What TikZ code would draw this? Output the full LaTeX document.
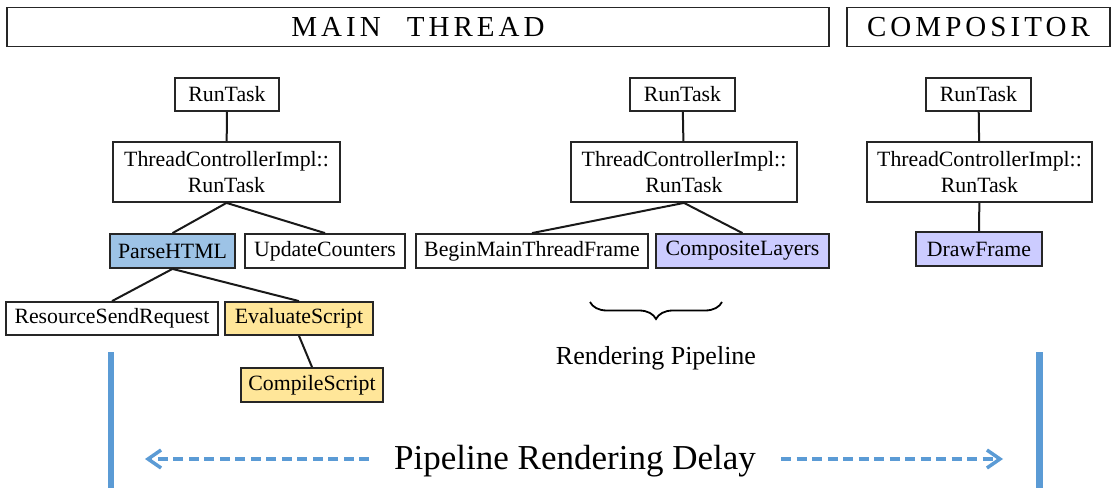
\documentclass[tikz,border=0pt]{standalone}
\usepackage{fontspec}
\setmainfont{Liberation Serif}
\newfontfamily\hdrfont[LetterSpace=14]{Liberation Serif}
\usetikzlibrary{arrows.meta,decorations.pathreplacing}
\definecolor{bluefill}{HTML}{9DC3E6}
\definecolor{yelfill}{HTML}{FFE699}
\definecolor{purfill}{HTML}{CCCCFF}
\definecolor{barblue}{HTML}{5B9BD5}
\tikzset{
  box/.style={draw=black!85, line width=1.8pt, inner sep=0pt, align=center,
    font=\fontsize{21.8}{25.5}\selectfont},
  header/.style={draw=black!85, line width=1.5pt, inner sep=0pt,
    font=\hdrfont\fontsize{29}{31}\selectfont},
  edge/.style={line width=2pt, black!90},
  bar/.style={line width=6.5pt, barblue},
  delay/.style={line width=3.5pt, barblue, dash pattern=on 10pt off 5.5pt,
    -{Straight Barb[length=13pt,width=18pt,line width=3.5pt]}},
  bracestyle/.style={decorate, decoration={brace, amplitude=17pt}, line width=1.8pt, black}
}
\begin{document}
\begin{tikzpicture}[x=1pt,y=-1pt]
\useasboundingbox (0,0) rectangle (1120,503);

% headers
\node[header, minimum width=822pt, minimum height=39pt] (mt) at (418,27) {MAIN\hspace{26pt}THREAD};
\node[header, minimum width=263pt, minimum height=39pt] (cp) at (978.5,27) {COMPOSITOR};

% left tree
\node[box, minimum width=104pt, minimum height=33pt] (rt1) at (227,94.5) {RunTask};
\node[box, minimum width=227pt, minimum height=60pt] (tci1) at (226.5,172) {ThreadControllerImpl::\\RunTask};
\node[box, minimum width=125pt, minimum height=34pt, fill=bluefill] (parse) at (172.5,251) {ParseHTML};
\node[box, minimum width=160pt, minimum height=34pt] (upd) at (325,251) {UpdateCounters};
\node[box, minimum width=212pt, minimum height=33pt] (rsr) at (112,318.5) {ResourceSendRequest};
\node[box, minimum width=148pt, minimum height=33pt, fill=yelfill] (eval) at (299,318.5) {EvaluateScript};
\node[box, minimum width=142pt, minimum height=34pt, fill=yelfill] (comp) at (312,385) {CompileScript};

% middle tree
\node[box, minimum width=105pt, minimum height=33pt] (rt2) at (682.5,94.5) {RunTask};
\node[box, minimum width=226pt, minimum height=60pt] (tci2) at (684,172) {ThreadControllerImpl::\\RunTask};
\node[box, minimum width=232pt, minimum height=34pt] (bmtf) at (532,251) {BeginMainThreadFrame};
\node[box, minimum width=173pt, minimum height=34pt, fill=purfill] (cl) at (742.5,251) {CompositeLayers};

% compositor tree
\node[box, minimum width=105pt, minimum height=33pt] (rt3) at (978.5,94.5) {RunTask};
\node[box, minimum width=225pt, minimum height=60pt] (tci3) at (979.5,172) {ThreadControllerImpl::\\RunTask};
\node[box, minimum width=126pt, minimum height=34pt, fill=purfill] (df) at (979,249) {DrawFrame};

% edges
\draw[edge] (rt1) -- (tci1);
\draw[edge] (tci1.south) -- (parse.north);
\draw[edge] (tci1.south) -- (upd.north);
\draw[edge] (parse.south) -- (rsr.north);
\draw[edge] (parse.south) -- (eval.north);
\draw[edge] (eval.south) -- (comp.north);
\draw[edge] (rt2) -- (tci2);
\draw[edge] (tci2.south) -- (bmtf.north);
\draw[edge] (tci2.south) -- (cl.north);
\draw[edge] (rt3) -- (tci3);
\draw[edge] (tci3) -- (df);

% brace
\coordinate (br1) at (722,302);
\coordinate (br2) at (590,302);
\draw[bracestyle] (br1) -- (br2);
\node[font=\fontsize{26}{30}\selectfont] (rp) at (656,358) {Rendering Pipeline};

% delay bars and arrows
\coordinate (lb1) at (111,352);
\coordinate (lb2) at (111,488);
\coordinate (rb1) at (1039.5,352);
\coordinate (rb2) at (1039.5,488);
\draw[bar] (lb1) -- (lb2);
\draw[bar] (rb1) -- (rb2);
\node[font=\fontsize{35}{40}\selectfont] (prd) at (575,461) {Pipeline Rendering Delay};
\coordinate (la1) at (369,459);
\coordinate (la2) at (145,459);
\coordinate (ra1) at (781,459);
\coordinate (ra2) at (1003,459);
\draw[delay] (la1) -- (la2);
\draw[delay] (ra1) -- (ra2);
\end{tikzpicture}
\end{document}
